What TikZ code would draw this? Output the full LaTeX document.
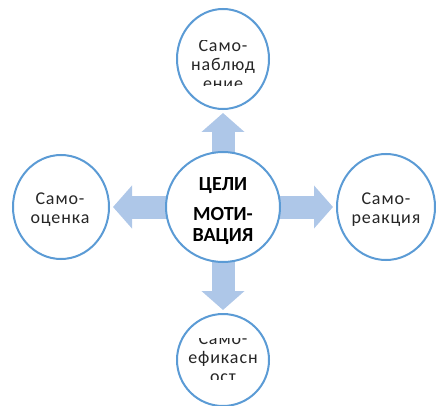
\documentclass[tikz,border=0pt]{standalone}
\usepackage{fontspec}
\setmainfont{Carlito}
\usetikzlibrary{shapes.geometric,arrows.meta,backgrounds}
\definecolor{ringblue}{HTML}{5B9BD5}
\definecolor{arrowblue}{HTML}{AEC7E8}
\begin{document}
\begin{tikzpicture}[x=1pt,y=-1pt,
  ring/.style={ellipse,draw=ringblue,line width=2pt,fill=white,inner sep=0pt},
  outertext/.style={align=center,font=\fontsize{18}{19}\selectfont\addfontfeature{LetterSpace=5},text=black!85},
  blockarrow/.style={draw=arrowblue,line width=23pt,shorten >=3pt,
    -{Triangle[width=42pt,length=19pt]}}]
\useasboundingbox (0,0) rectangle (436,406);
\node[ring,minimum width=114pt,minimum height=110pt] (c) at (223,207) {};
\node[ring,minimum width=92pt,minimum height=100pt] (t) at (223,59) {};
\node[ring,minimum width=92pt,minimum height=92pt] (b) at (223,360) {};
\node[ring,minimum width=96pt,minimum height=104pt] (l) at (61,207) {};
\node[ring,minimum width=98pt,minimum height=106pt] (r) at (386,207) {};
\begin{scope}[on background layer]
  \draw[blockarrow] (c.center) -- (t);
  \draw[blockarrow] (c.center) -- (b);
  \draw[blockarrow] (c.center) -- (l);
  \draw[blockarrow] (c.center) -- (r);
\end{scope}
\node[align=center,font=\bfseries\fontsize{20}{21}\selectfont] (ct) at (223,211) {ЦЕЛИ\\[9pt]МОТИ-\\ВАЦИЯ};
\node[outertext] (lt) at (60,210) {Само-\\оценка};
\node[outertext] (rt) at (386,210) {Само-\\реакция};
\begin{scope}
  \clip (180,41) rectangle (266,86);
  \node[outertext] (tt) at (223,65) {Само-\\наблюд\\ение};
\end{scope}
\begin{scope}
  \clip (180,338) rectangle (266,379);
  \node[outertext] (bt) at (223,358) {Само-\\ефикасн\\ост};
\end{scope}
\end{tikzpicture}
\end{document}
